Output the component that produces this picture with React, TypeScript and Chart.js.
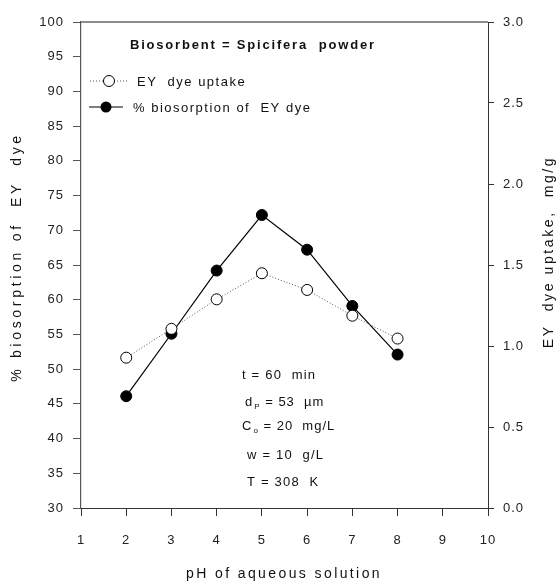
import React, { useEffect, useRef } from "react";
import { Chart, registerables } from "chart.js";

Chart.register(...registerables);

// ---- data ----
const phValues = [2, 3, 4, 5, 6, 7, 8];
const biosorptionPercent = [46.1, 55.1, 64.2, 72.2, 67.2, 59.1, 52.1];
const dyeUptake = [0.928, 1.106, 1.288, 1.449, 1.346, 1.187, 1.046];

const xTickValues = [1, 2, 3, 4, 5, 6, 7, 8, 9, 10];
const leftTickValues = [30, 35, 40, 45, 50, 55, 60, 65, 70, 75, 80, 85, 90, 95, 100];
const rightTickValues = [0, 0.5, 1.0, 1.5, 2.0, 2.5, 3.0];

const seriesLabels = ["EY  dye uptake", "% biosorption of  EY dye"];
const titleText = "Biosorbent = Spicifera  powder";
const xTitle = "pH of aqueous solution";
const yTitle = "% biosorption of  EY  dye";
const y1Title = "EY  dye uptake,  mg/g";

const FONT = "'Liberation Sans', Arial, Helvetica, sans-serif";

function drawSpaced(
  ctx: CanvasRenderingContext2D,
  text: string,
  x: number,
  y: number,
  font: string,
  spacing: number,
  align: CanvasTextAlign = "left"
) {
  ctx.save();
  ctx.font = font;
  (ctx as any).letterSpacing = spacing + "px";
  ctx.textAlign = align;
  ctx.textBaseline = "middle";
  ctx.fillStyle = "#111";
  ctx.fillText(text, x, y);
  ctx.restore();
}

function drawWithSub(
  ctx: CanvasRenderingContext2D,
  main: string,
  sub: string,
  rest: string,
  x: number,
  y: number
) {
  ctx.save();
  ctx.fillStyle = "#111";
  ctx.textBaseline = "middle";
  ctx.textAlign = "left";
  (ctx as any).letterSpacing = "1px";
  ctx.font = `13px ${FONT}`;
  ctx.fillText(main, x, y);
  const w1 = ctx.measureText(main).width;
  ctx.font = `8px ${FONT}`;
  (ctx as any).letterSpacing = "0px";
  ctx.fillText(sub, x + w1 + 1, y + 5);
  const w2 = ctx.measureText(sub).width;
  ctx.font = `13px ${FONT}`;
  (ctx as any).letterSpacing = "1px";
  ctx.fillText(rest, x + w1 + w2 + 2, y);
  ctx.restore();
}

const overlayPlugin = {
  id: "overlay",
  beforeDraw(chart: any) {
    (chart.ctx as any).letterSpacing = "1px";
  },
  afterDraw(chart: any) {
    const ctx: CanvasRenderingContext2D = chart.ctx;
    (ctx as any).letterSpacing = "0px";
    const ca = chart.chartArea;

    // top frame line
    ctx.save();
    ctx.strokeStyle = "#666";
    ctx.lineWidth = 1.5;
    ctx.beginPath();
    ctx.moveTo(ca.left, ca.top);
    ctx.lineTo(ca.right, ca.top);
    ctx.stroke();
    ctx.restore();

    // bold title
    drawSpaced(ctx, titleText, 130, 45, `bold 13px ${FONT}`, 1.8);

    // legend
    ctx.save();
    ctx.strokeStyle = "#555";
    ctx.lineWidth = 1;
    ctx.setLineDash([1, 2]);
    ctx.beginPath();
    ctx.moveTo(90, 81);
    ctx.lineTo(127, 81);
    ctx.stroke();
    ctx.setLineDash([]);
    ctx.beginPath();
    ctx.arc(109, 81, 5.5, 0, Math.PI * 2);
    ctx.fillStyle = "#fff";
    ctx.fill();
    ctx.strokeStyle = "#000";
    ctx.stroke();
    ctx.strokeStyle = "#000";
    ctx.lineWidth = 1.2;
    ctx.beginPath();
    ctx.moveTo(89, 107);
    ctx.lineTo(123, 107);
    ctx.stroke();
    ctx.beginPath();
    ctx.arc(106, 107, 5.5, 0, Math.PI * 2);
    ctx.fillStyle = "#000";
    ctx.fill();
    ctx.restore();
    drawSpaced(ctx, seriesLabels[0], 137, 82, `13px ${FONT}`, 1.5);
    drawSpaced(ctx, seriesLabels[1], 133, 108, `13px ${FONT}`, 1.5);

    // experimental conditions
    drawSpaced(ctx, "t = 60  min", 242, 375, `13px ${FONT}`, 1.2);
    drawWithSub(ctx, "d", "P", " = 53  µm", 245, 402);
    drawWithSub(ctx, "C", "o", " = 20  mg/L", 242, 426);
    drawSpaced(ctx, "w = 10  g/L", 247, 455, `13px ${FONT}`, 1.2);
    drawSpaced(ctx, "T = 308  K", 247, 482, `13px ${FONT}`, 1.2);

    // axis titles
    drawSpaced(ctx, xTitle, 284, 574, `14px ${FONT}`, 2.4, "center");
    ctx.save();
    ctx.translate(17, 257);
    ctx.rotate(-Math.PI / 2);
    drawSpaced(ctx, yTitle, 0, 0, `14px ${FONT}`, 3.7, "center");
    ctx.restore();
    ctx.save();
    ctx.translate(549, 252);
    ctx.rotate(-Math.PI / 2);
    drawSpaced(ctx, y1Title, 0, 0, `14px ${FONT}`, 2.6, "center");
    ctx.restore();
  },
};

export default function App() {
  const canvasRef = useRef<HTMLCanvasElement | null>(null);

  useEffect(() => {
    const canvas = canvasRef.current;
    if (!canvas) return;
    const tickFont = { family: FONT, size: 13 };
    const chart = new Chart(canvas, {
      type: "line",
      data: {
        datasets: [
          {
            label: seriesLabels[0],
            data: phValues.map((x, i) => ({ x, y: dyeUptake[i] })),
            yAxisID: "y1",
            borderColor: "#555",
            borderWidth: 1,
            borderDash: [1, 2],
            pointRadius: 5.5,
            pointBackgroundColor: "#fff",
            pointBorderColor: "#000",
            pointBorderWidth: 1,
            tension: 0,
          },
          {
            label: seriesLabels[1],
            data: phValues.map((x, i) => ({ x, y: biosorptionPercent[i] })),
            yAxisID: "y",
            borderColor: "#000",
            borderWidth: 1.2,
            pointRadius: 5.5,
            pointBackgroundColor: "#000",
            pointBorderColor: "#000",
            pointBorderWidth: 1,
            tension: 0,
          },
        ],
      },
      options: {
        responsive: false,
        animation: false,
        devicePixelRatio: 1,
        layout: { padding: { top: 22, left: 0, right: 0, bottom: 0 } },
        plugins: { legend: { display: false }, tooltip: { enabled: false } },
        scales: {
          x: {
            type: "linear",
            position: "bottom",
            min: 1,
            max: 10,
            afterBuildTicks: (s: any) => {
              s.ticks = xTickValues.map((v) => ({ value: v }));
            },
            ticks: { font: tickFont, color: "#222", padding: 17, maxRotation: 0, autoSkip: false },
            grid: { drawOnChartArea: false, drawTicks: true, tickLength: 8, color: "#333", lineWidth: 1 },
            border: { display: true, color: "#333", width: 1 },
            afterFit: (s: any) => {
              s.height = 76;
            },
          },
          y: {
            type: "linear",
            position: "left",
            min: 30,
            max: 100,
            afterBuildTicks: (s: any) => {
              s.ticks = leftTickValues.map((v) => ({ value: v }));
            },
            ticks: { font: tickFont, color: "#222", padding: 9, autoSkip: false },
            grid: { drawOnChartArea: false, drawTicks: true, tickLength: 8, color: "#555", lineWidth: 1 },
            border: { display: true, color: "#555", width: 1.2 },
            afterFit: (s: any) => {
              s.width = 81;
            },
          },
          y1: {
            type: "linear",
            position: "right",
            min: 0,
            max: 3,
            afterBuildTicks: (s: any) => {
              s.ticks = rightTickValues.map((v) => ({ value: v }));
            },
            ticks: {
              font: tickFont,
              color: "#222",
              padding: 9,
              autoSkip: false,
              callback: (v: any) => Number(v).toFixed(1),
            },
            grid: { drawOnChartArea: false, drawTicks: true, tickLength: 6, color: "#333", lineWidth: 1 },
            border: { display: true, color: "#333", width: 1 },
            afterFit: (s: any) => {
              s.width = 70;
            },
          },
        },
      },
      plugins: [overlayPlugin],
    } as any);
    return () => chart.destroy();
  }, []);

  return (
    <div style={{ position: "absolute", left: 0, top: 0, width: 558, height: 584, background: "#fff" }}>
      <canvas ref={canvasRef} width={558} height={584} style={{ display: "block", width: 558, height: 584 }} />
    </div>
  );
}
